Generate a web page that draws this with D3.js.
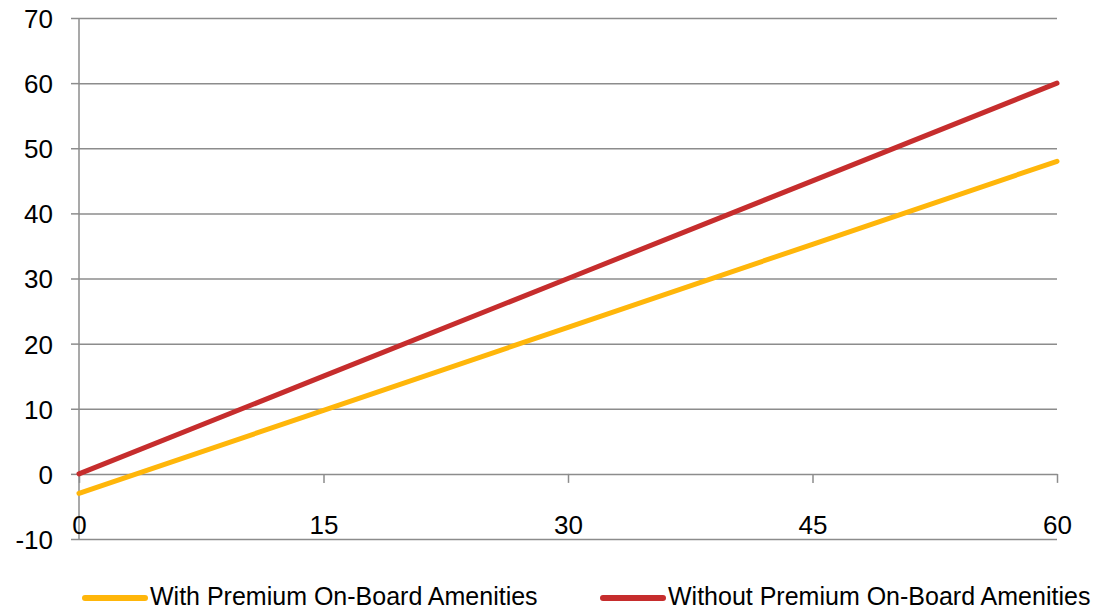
<!DOCTYPE html>
<html>
<head>
<meta charset="utf-8">
<script src="https://cdn.jsdelivr.net/npm/d3@7"></script>
<style>
  html, body { margin: 0; padding: 0; background: #fff; }
  svg { display: block; font-family: "Liberation Sans", Arial, sans-serif; }
</style>
</head>
<body>
<svg id="chart" width="1093" height="610"></svg>
<script>
// Minutes on the x axis
const xValues = [0, 15, 30, 45, 60];
// Series values at each x
const withPremium = [-3, 9.75, 22.5, 35.25, 48];
const withoutPremium = [0, 15, 30, 45, 60];
const seriesNames = ["With Premium On-Board Amenities", "Without Premium On-Board Amenities"];
const seriesColors = ["#FFB60A", "#C62D2D"];
const xTicks = [0, 15, 30, 45, 60];
const yTicks = [-10, 0, 10, 20, 30, 40, 50, 60, 70];

const svg = d3.select("#chart");
const plotLeft = 79, plotRight = 1057, plotTop = 18, plotBottom = 539;
const gridColor = "#8c8c8c";
const labelFont = 26;

const x = d3.scaleLinear().domain([0, 60]).range([plotLeft, plotRight]);
const y = d3.scaleLinear().domain([-10, 70]).range([plotBottom, plotTop]);

// Horizontal gridlines with short ticks on the left
const yAxis = d3.axisLeft(y).tickValues(yTicks).tickSize(8).tickFormat(d => d);
const yg = svg.append("g").attr("transform", `translate(${plotLeft},0)`).call(yAxis);
yg.select(".domain").attr("stroke", gridColor).attr("stroke-width", 1.5).attr("d", `M0,${plotTop}V${plotBottom}`);
yg.selectAll(".tick line").attr("stroke", gridColor).attr("stroke-width", 1.5);
yg.selectAll(".tick text").attr("x", -26).attr("dy", "0.36em")
  .attr("font-size", labelFont).attr("fill", "#000").attr("font-family", "Liberation Sans, Arial, sans-serif");
yg.selectAll(".tick").append("line")
  .attr("x1", 0).attr("x2", plotRight - plotLeft)
  .attr("stroke", gridColor).attr("stroke-width", 1.5);

// X axis crossing at zero, labels set below it
const xAxis = d3.axisBottom(x).tickValues(xTicks).tickSize(9).tickFormat(d => d);
const xg = svg.append("g").attr("transform", `translate(0,${y(0)})`).call(xAxis);
xg.select(".domain").remove();
xg.selectAll(".tick line").attr("stroke", gridColor).attr("stroke-width", 1.5);
xg.selectAll(".tick text").attr("y", 60).attr("dy", 0)
  .attr("font-size", labelFont).attr("fill", "#000").attr("font-family", "Liberation Sans, Arial, sans-serif");

// Series lines
const series = [withPremium, withoutPremium];
const line = d3.line().x((d, i) => x(xValues[i])).y(d => y(d));
series.forEach((vals, k) => {
  svg.append("path")
    .datum(vals)
    .attr("d", line)
    .attr("fill", "none")
    .attr("stroke", seriesColors[k])
    .attr("stroke-width", 5)
    .attr("stroke-linecap", "round");
});

// Legend
const legendY = 598;
const legendX = [85, 603];
seriesNames.forEach((name, k) => {
  const g = svg.append("g").attr("transform", `translate(${legendX[k]},${legendY})`);
  g.append("line").attr("x1", 0).attr("x2", 60).attr("y1", 0).attr("y2", 0)
    .attr("stroke", seriesColors[k]).attr("stroke-width", 6).attr("stroke-linecap", "round");
  g.append("text").attr("x", 65).attr("y", 7)
    .attr("font-size", 25).attr("fill", "#000").text(name);
});
</script>
</body>
</html>
